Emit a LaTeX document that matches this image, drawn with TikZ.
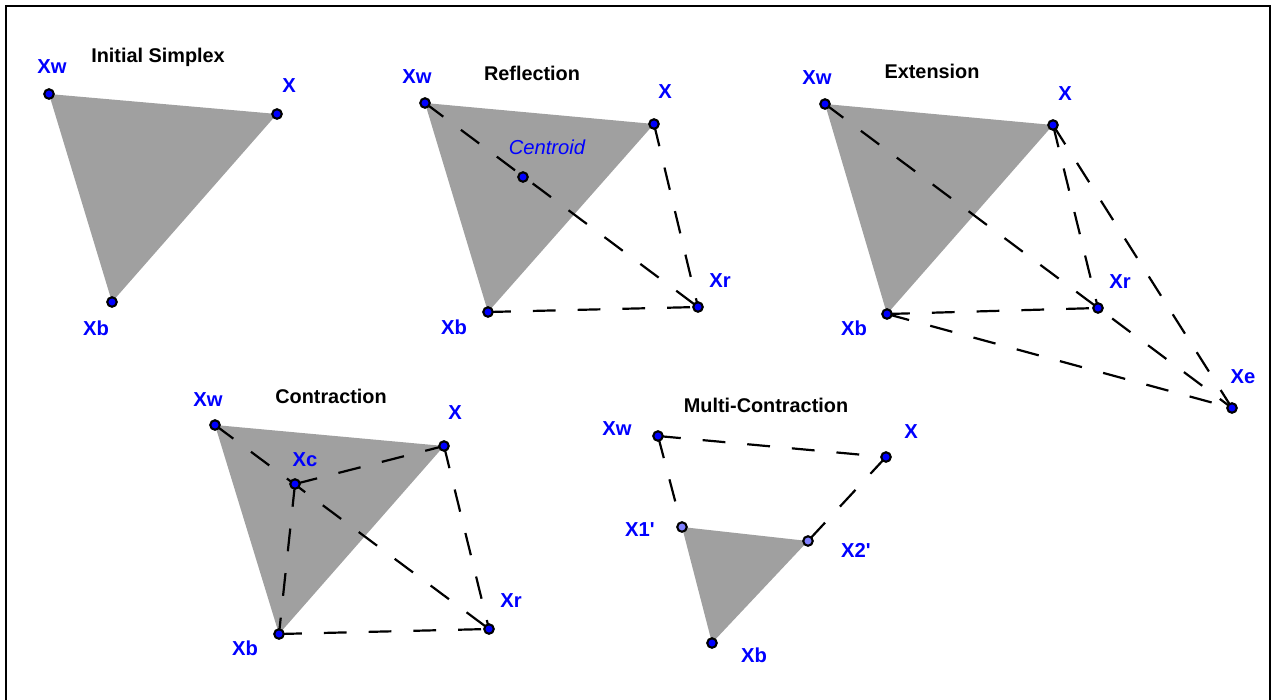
\documentclass[tikz,border=0pt]{standalone}
\usepackage{fontspec}
\setmainfont{Liberation Sans}
\usetikzlibrary{backgrounds}
\definecolor{simplexgray}{RGB}{160,160,160}
\definecolor{labelblue}{RGB}{0,0,255}
\definecolor{newblue}{RGB}{128,128,255}

\begin{document}
\begin{tikzpicture}[
    x=0.02cm, y=-0.02cm,
    vtx/.style={circle, draw=black, fill=labelblue, line width=1.2pt, minimum size=0.19cm, inner sep=0pt},
    newvtx/.style={vtx, fill=newblue},
    lbl/.style={text=labelblue, font=\fontsize{11.5}{13}\selectfont\bfseries},
    ttl/.style={font=\fontsize{11.3}{13}\selectfont\bfseries},
    dsh/.style={draw, line width=1.25pt, dash pattern=on 13pt off 12.5pt},
    simplex/.style={fill=simplexgray}
]
    \useasboundingbox (0,0) rectangle (1272,700);
    \draw[line width=0.6pt] (6,700) -- (6,6) -- (1270,6) -- (1270,700);

    % initial simplex
    \node[ttl] (ti) at (158,57) {Initial Simplex};
    \node[vtx] (iw) at (49,94) {};
    \node[vtx] (ix) at (277,114) {};
    \node[vtx] (ib) at (112,302) {};
    \node[lbl] at (52,67) {Xw};
    \node[lbl] at (289,86) {X};
    \node[lbl] at (96,328) {Xb};

    % reflection
    \node[ttl] (tr) at (532,73) {Reflection};
    \node[vtx] (rw) at (425,103) {};
    \node[vtx] (rx) at (654,124) {};
    \node[vtx] (rb) at (488,312) {};
    \node[vtx] (rc) at (523,177) {};
    \node[vtx] (rr) at (698,307) {};
    \node[lbl] at (417,77) {Xw};
    \node[lbl] at (665,92) {X};
    \node[lbl] at (454,327) {Xb};
    \node[lbl] at (720,281) {Xr};
    \node[text=labelblue, font=\fontsize{11.5}{13}\selectfont\itshape] at (547,147) {Centroid};

    % extension
    \node[ttl] (te) at (932,71) {Extension};
    \node[vtx] (ew) at (825,104) {};
    \node[vtx] (ex) at (1053,125) {};
    \node[vtx] (eb) at (887,314) {};
    \node[vtx] (er) at (1098,308) {};
    \node[vtx] (ee) at (1232,408) {};
    \node[lbl] at (817,78) {Xw};
    \node[lbl] at (1065,94) {X};
    \node[lbl] at (854,328) {Xb};
    \node[lbl] at (1120,282) {Xr};
    \node[lbl] at (1243,377) {Xe};

    % contraction
    \node[ttl] (tc) at (331,396) {Contraction};
    \node[vtx] (cw) at (215,425) {};
    \node[vtx] (cx) at (444,446) {};
    \node[vtx] (cb) at (279,634) {};
    \node[vtx] (cc) at (295,484) {};
    \node[vtx] (cr) at (489,629) {};
    \node[lbl] at (208,400) {Xw};
    \node[lbl] at (455,413) {X};
    \node[lbl] at (245,648) {Xb};
    \node[lbl] at (305,460) {Xc};
    \node[lbl] at (511,601) {Xr};

    % multi-contraction
    \node[ttl] (tm) at (766,405) {Multi-Contraction};
    \node[vtx] (mw) at (658,436) {};
    \node[vtx] (mx) at (886,457) {};
    \node[vtx] (mb) at (712,643) {};
    \node[newvtx] (m1) at (682,527) {};
    \node[newvtx] (m2) at (808,541) {};
    \node[lbl] at (617,429) {Xw};
    \node[lbl] at (911,432) {X};
    \node[lbl] at (640,530) {X1\textquotesingle};
    \node[lbl] at (856,550) {X2\textquotesingle};
    \node[lbl] at (754,655) {Xb};

    \begin{scope}[on background layer]
        \fill[simplex] (iw.center) -- (ix.center) -- (ib.center) -- cycle;
        \fill[simplex] (rw.center) -- (rx.center) -- (rb.center) -- cycle;
        \fill[simplex] (ew.center) -- (ex.center) -- (eb.center) -- cycle;
        \fill[simplex] (cw.center) -- (cx.center) -- (cb.center) -- cycle;
        \fill[simplex] (m1.center) -- (m2.center) -- (mb.center) -- cycle;
        % dashed moves
        \draw[dsh] (rw.center) -- (rr.center);
        \draw[dsh] (rx.center) -- (rr.center);
        \draw[dsh] (rb.center) -- (rr.center);
        \draw[dsh] (ew.center) -- (ee.center);
        \draw[dsh] (ex.center) -- (er.center);
        \draw[dsh] (ex.center) -- (ee.center);
        \draw[dsh] (eb.center) -- (er.center);
        \draw[dsh] (eb.center) -- (ee.center);
        \draw[dsh] (cw.center) -- (cr.center);
        \draw[dsh] (cx.center) -- (cr.center);
        \draw[dsh] (cb.center) -- (cr.center);
        \draw[dsh] (cc.center) -- (cx.center);
        \draw[dsh] (cc.center) -- (cb.center);
        \draw[dsh] (mw.center) -- (mx.center);
        \draw[dsh] (mw.center) -- (m1.center);
        \draw[dsh] (mx.center) -- (m2.center);
    \end{scope}
\end{tikzpicture}
\end{document}
